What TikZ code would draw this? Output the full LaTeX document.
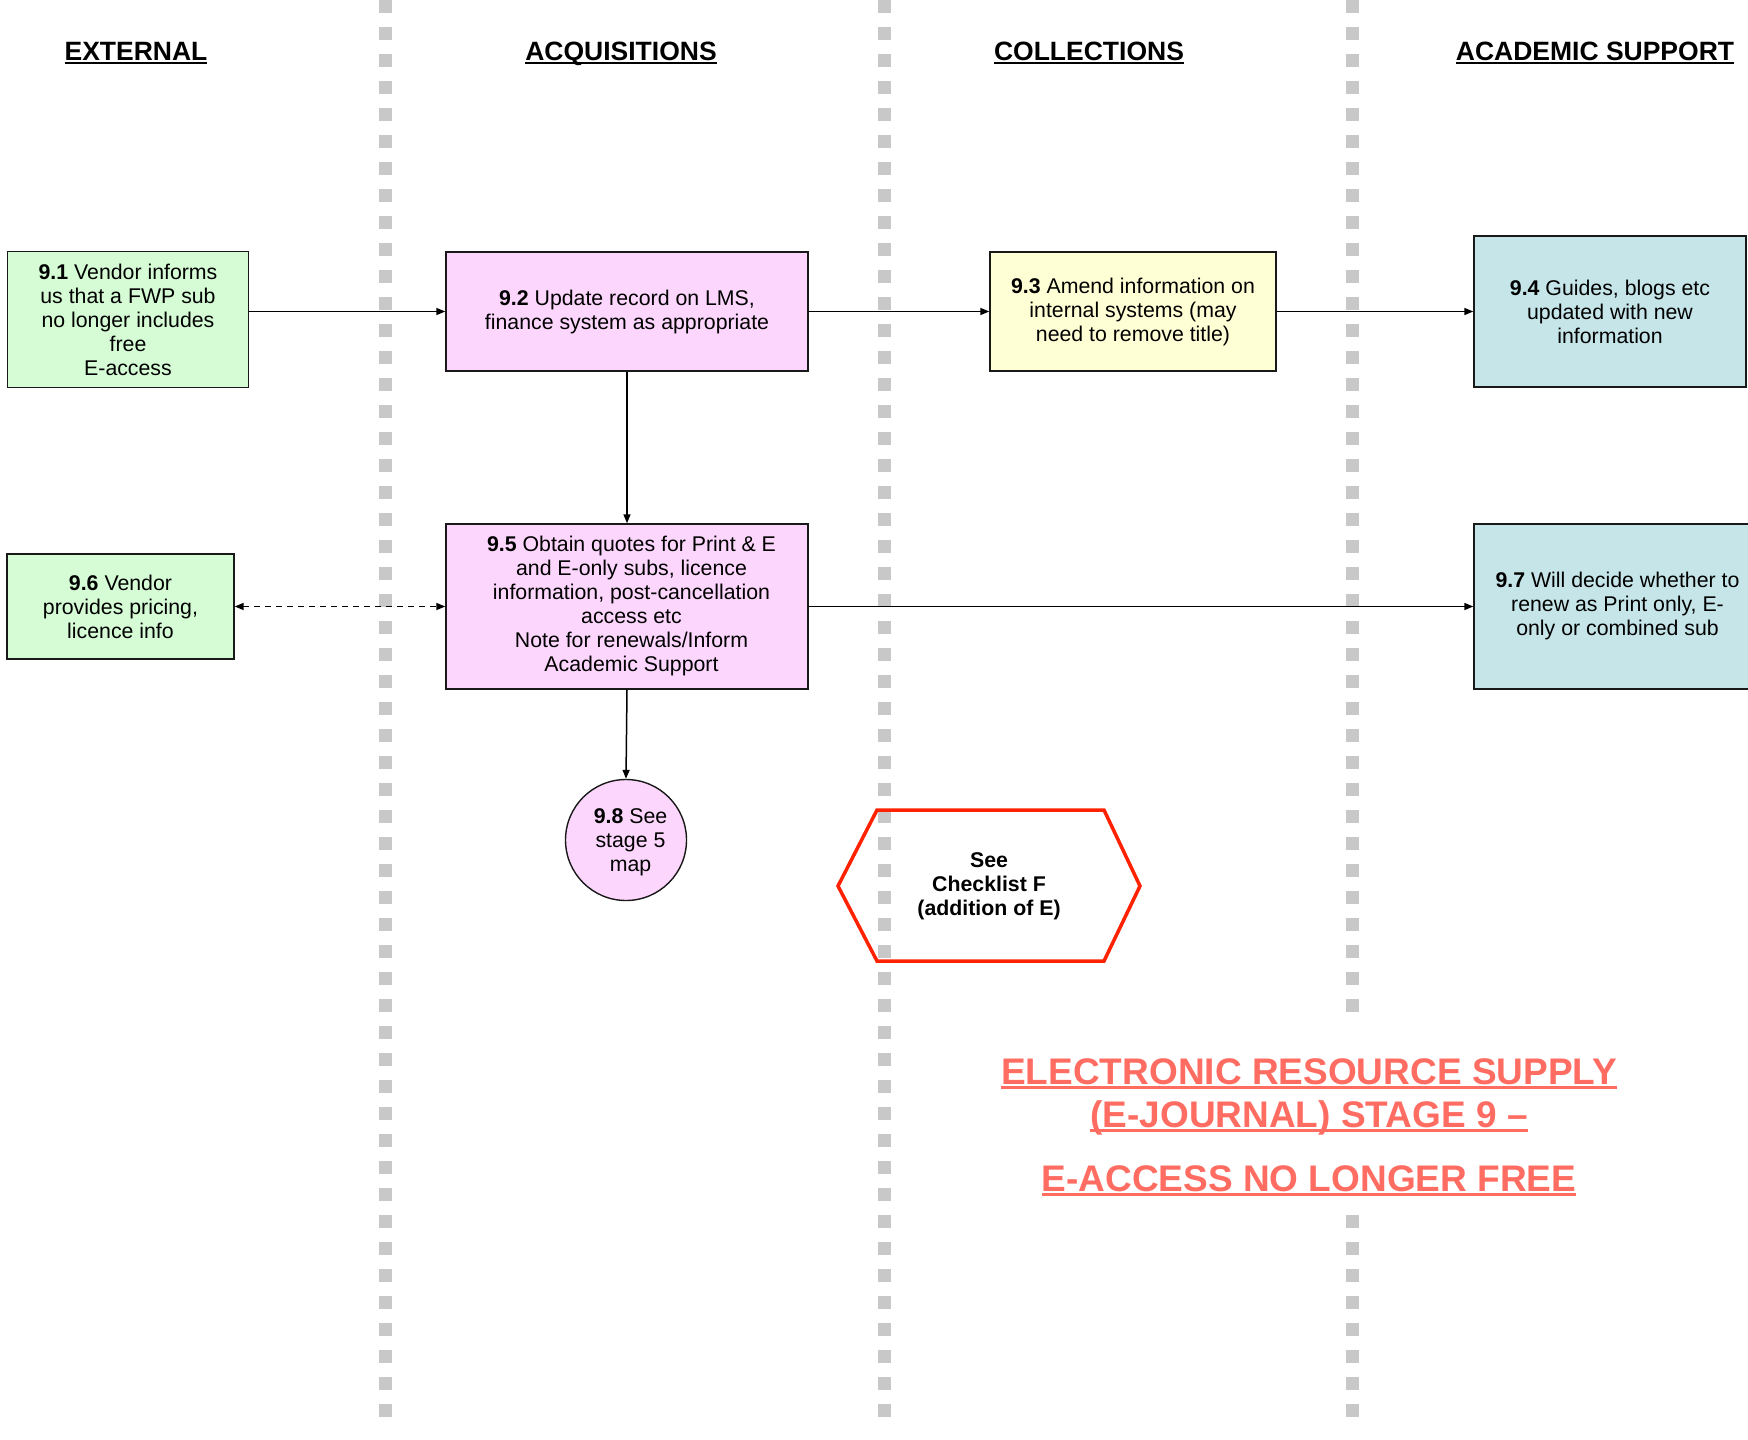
\documentclass[tikz,border=0pt]{standalone}
\usepackage{fontspec}
\setmainfont{Liberation Sans}
\usetikzlibrary{arrows.meta}
\definecolor{lanegray}{RGB}{200,200,200}
\definecolor{boxgreen}{RGB}{213,252,213}
\definecolor{boxpink}{RGB}{252,214,252}
\definecolor{boxyellow}{RGB}{255,255,213}
\definecolor{boxteal}{RGB}{197,229,232}
\definecolor{hexred}{RGB}{255,34,0}
\definecolor{titlered}{RGB}{255,108,98}
\newcommand\myul[3]{\setbox0\hbox{#3}\rlap{\copy0}\rule[-#2]{\wd0}{#1}}
\newcommand\shiftR[1]{\kern9pt\begin{tabular}{@{}c@{}}#1\end{tabular}}
\begin{document}
\begin{tikzpicture}[x=1pt,y=-1pt,
  lane/.style={draw=lanegray, line width=13pt, dash pattern=on 13pt off 14pt},
  box/.style={draw=black!90, line width=1.4pt, align=center, inner sep=0pt,
    font=\fontsize{21.3}{24}\selectfont},
  hdr/.style={anchor=base, font=\bfseries\fontsize{26.5}{30}\selectfont},
  ttl/.style={anchor=base, text=titlered, font=\bfseries\fontsize{37}{43}\selectfont},
  arr/.style={-{Triangle[length=9pt,width=7pt]}, line width=1.5pt},
  darr/.style={{Triangle[length=9pt,width=7pt]}-{Triangle[length=9pt,width=7pt]}, line width=1.5pt, dash pattern=on 6pt off 5pt}]
\useasboundingbox (0,0) rectangle (1748,1440);
\fill[white] (0,0) rectangle (1748,1440);
% lanes
\draw[lane] (385,0) -- (385,1427);
\draw[lane] (884,0) -- (884,1427);
\draw[lane] (1352,0) -- (1352,1427);
% headers
\node[hdr] (h1) at (136,60) {\myul{2.2pt}{4pt}{EXTERNAL}};
\node[hdr] (h2) at (621,60) {\myul{2.2pt}{4pt}{ACQUISITIONS}};
\node[hdr] (h3) at (1089,60) {\myul{2.2pt}{4pt}{COLLECTIONS}};
\node[hdr] (h4) at (1595,60) {\myul{2.2pt}{4pt}{ACADEMIC SUPPORT}};
% boxes
\node[box, fill=boxgreen, minimum width=241pt, minimum height=136pt] (n91) at (128,319.5)
  {\textbf{9.1} Vendor informs\\us that a FWP sub\\no longer includes\\free\\E-access};
\node[box, fill=boxpink, minimum width=362pt, minimum height=119pt] (n92) at (627,311.5)
  {\textbf{9.2} Update record on LMS,\\finance system as appropriate};
\node[box, fill=boxyellow, minimum width=286pt, minimum height=119pt] (n93) at (1133,311.5)
  {\textbf{9.3} Amend information on\\internal systems (may\\need to remove title)};
\node[box, fill=boxteal, minimum width=272pt, minimum height=151pt] (n94) at (1610,311.5)
  {\textbf{9.4} Guides, blogs etc\\updated with new\\information};
\node[box, fill=boxpink, minimum width=362pt, minimum height=165pt] (n95) at (627,606.5)
  {\shiftR{\textbf{9.5} Obtain quotes for Print \& E\\and E-only subs, licence\\information, post-cancellation\\access etc\\Note for renewals/Inform\\Academic Support}};
\node[box, fill=boxgreen, minimum width=227pt, minimum height=105pt] (n96) at (120.5,606.5)
  {\textbf{9.6} Vendor\\provides pricing,\\licence info};
\node[box, fill=boxteal, minimum width=278pt, minimum height=165pt] (n97) at (1613,606.5)
  {\shiftR{\textbf{9.7} Will decide whether to\\renew as Print only, E-\\only or combined sub}};
\node[box, circle, fill=boxpink, minimum size=121pt] (n98) at (626,840)
  {\raisebox{0pt}[\dimexpr\height+6pt\relax][\depth]{\shiftR{\textbf{9.8} See\\stage 5\\map}}};
% connectors
\draw[arr] (n92.west -| n91.east) -- (n92.west);
\draw[arr] (n92.east) -- (n93.west);
\draw[arr] (n93.east) -- (n93.east -| n94.west);
\draw[arr] (n92.south) -- (n95.north);
\draw[arr] (n95.east) -- (n97.west);
\draw[darr] (n96.east) -- (n95.west);
\draw[arr] (n95.south) -- (n98.north);
% checklist hexagon
\draw[hexred, line width=3.5pt, line join=miter] (838,886) -- (877,810) -- (1104,810) -- (1140,886) -- (1104,961) -- (877,961) -- cycle;
\node[align=center, inner sep=0pt, font=\bfseries\fontsize{21.3}{24}\selectfont] (chk) at (989,886)
  {See\\Checklist F\\(addition of E)};
% title
\fill[white] (1000,1026) rectangle (1620,1205);
\node[ttl] (t1) at (1309,1084) {\myul{3.2pt}{5pt}{ELECTRONIC RESOURCE SUPPLY}};
\node[ttl] (t2) at (1309,1127) {\myul{3.2pt}{5pt}{(E-JOURNAL) STAGE 9 –}};
\node[ttl] (t3) at (1309,1191) {\myul{3.2pt}{5pt}{E-ACCESS NO LONGER FREE}};
\end{tikzpicture}
\end{document}
